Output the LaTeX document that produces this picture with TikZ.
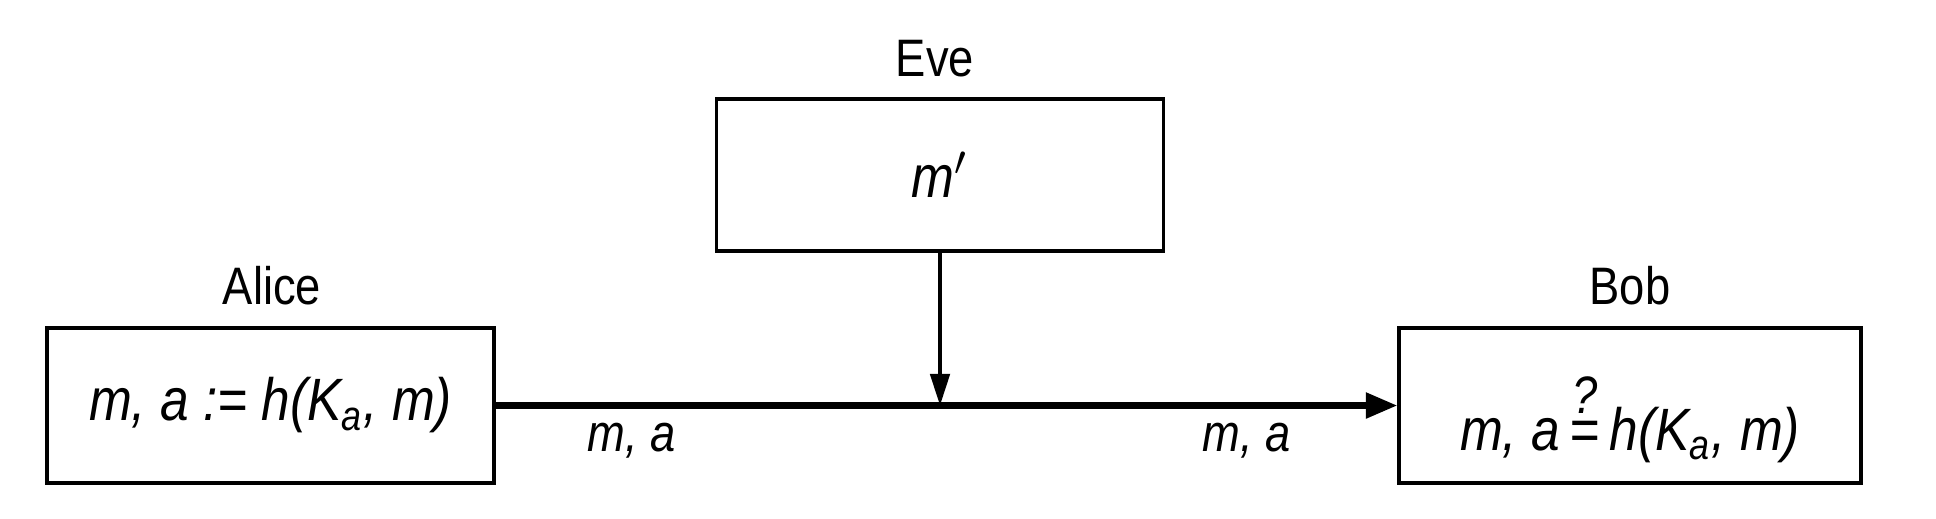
\documentclass[tikz,border=0pt]{standalone}
\usepackage{fontspec}
\setmainfont{Liberation Sans}[FakeStretch=0.86]
\usetikzlibrary{arrows.meta}
\tikzset{
  party/.style={draw,line width=.9pt,minimum width=4.47cm,minimum height=1.55cm,font=\fontsize{17}{20}\selectfont\itshape},
  who/.style={font=\fontsize{15}{18}\selectfont},
  msg/.style={font=\fontsize{15}{18}\selectfont\itshape}
}
\begin{document}
\begin{tikzpicture}[x=.1mm,y=-.1mm]
        \useasboundingbox(0,0)rectangle(1936,518);
        \node[party](alice)at(270.5,405.5){m, a := h(K\textsubscript{a}, m)};
        \node[party,minimum height=1.52cm](eve)at(940,175){m\/$'$};
        \node[party,minimum width=4.62cm](bob)at(1630,405.5){};
        \node[font=\fontsize{17}{20}\selectfont\itshape](bobtext)at(1630,418){m, a\,$\stackrel{\mbox{\fontsize{15}{15}\selectfont ?}}{\mbox{=}}$\,h(K\textsubscript{a}, m)};
        \node[who](alicename)at(272,286){Alice};
        \node[who](evename)at(935,59){Eve};
        \node[who](bobname)at(1630,286){Bob};
        \coordinate(tap)at(eve.south|-alice.east);
        \draw[-{Triangle[length=9pt,width=7pt]},line width=1.9pt](alice.east)--(bob.west);
        \draw[-{Triangle[length=9pt,width=5.5pt]},line width=1.1pt](eve.south)--(tap);
        \node[msg](sent)at(632,441){m, a};
        \node[msg](got)at(1247,441){m, a};
      \end{tikzpicture}
\end{document}
